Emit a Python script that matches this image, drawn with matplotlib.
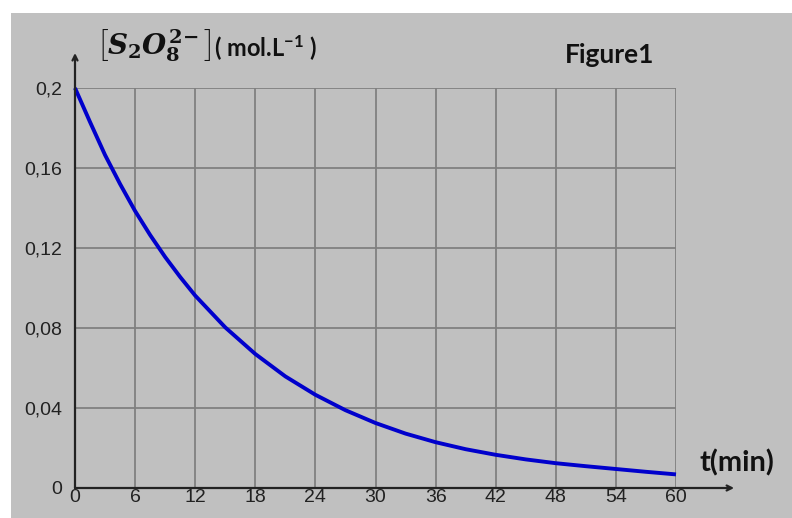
import matplotlib
matplotlib.use("Agg")
import matplotlib.pyplot as plt
from matplotlib.patches import Rectangle

# concentration of S2O8^2- (mol/L)
t_min = [0, 1.5, 3, 4.5, 6, 7.5, 9, 10.5, 12, 15, 18, 21, 24, 27, 30,
         33, 36, 39, 42, 45, 48, 51, 54, 57, 60]
conc = [0.2, 0.183, 0.1665, 0.152, 0.1385, 0.1265, 0.1155, 0.1055, 0.0962,
        0.0803, 0.0670, 0.0558, 0.0466, 0.0389, 0.0325, 0.0272, 0.0229,
        0.0194, 0.0166, 0.0143, 0.0124, 0.0109, 0.0095, 0.0081, 0.0068]

x_ticks = [0, 6, 12, 18, 24, 30, 36, 42, 48, 54, 60]
y_ticks = [0, 0.04, 0.08, 0.12, 0.16, 0.2]
y_tick_labels = ["0", "0,04", "0,08", "0,12", "0,16", "0,2"]

W, H = 792, 518
BG = "#c0c0c0"

plt.rcParams["mathtext.fontset"] = "custom"
plt.rcParams["mathtext.it"] = "DejaVu Serif:italic:bold"
plt.rcParams["mathtext.rm"] = "DejaVu Serif:bold"
plt.rcParams["mathtext.bf"] = "Lato:bold"

fig = plt.figure(figsize=(W / 100, H / 100), dpi=100)
fig.patch.set_facecolor("white")
fig.patches.append(Rectangle((11 / W, 0), 1 - 11 / W, (H - 13) / H,
                             transform=fig.transFigure, facecolor=BG,
                             edgecolor="none", zorder=-10))

ax = fig.add_axes([75 / W, (H - 488) / H, 601 / W, 400 / H])
ax.set_facecolor(BG)
ax.set_xlim(0, 60)
ax.set_ylim(0, 0.2)

ax.set_xticks(x_ticks)
ax.set_xticklabels([str(v) for v in x_ticks])
ax.set_yticks(y_ticks)
ax.set_yticklabels(y_tick_labels)
ax.tick_params(length=0, labelsize=14, colors="#222222")
ax.tick_params(axis="y", pad=9)
ax.tick_params(axis="x", pad=1)
for lab in ax.get_xticklabels() + ax.get_yticklabels():
    lab.set_fontfamily("Liberation Sans")

ax.grid(True, color="#808080", linewidth=1.3)
for s in ("top", "right", "left", "bottom"):
    ax.spines[s].set_visible(False)

ax.plot(t_min, conc, color="#0000cc", linewidth=2.8, solid_capstyle="butt",
        solid_joinstyle="round", zorder=3, clip_on=False)

# axes with arrows
ax.annotate("", xy=(65.8, 0), xytext=(0, 0), xycoords="data",
            arrowprops=dict(arrowstyle="->", color="#222222", lw=1.6,
                            mutation_scale=9, shrinkA=0, shrinkB=0),
            annotation_clip=False, zorder=4)
ax.annotate("", xy=(0, 0.2175), xytext=(0, 0), xycoords="data",
            arrowprops=dict(arrowstyle="->", color="#222222", lw=1.6,
                            mutation_scale=9, shrinkA=0, shrinkB=0),
            annotation_clip=False, zorder=4)

# labels
fig.text(96 / W, 1 - 46 / H, r"$\left[\mathit{S_2O_8^{2\!-}}\right]$",
         fontsize=20, color="#111111", ha="left", va="center")
fig.text(214 / W, 1 - 48 / H, r"( mol.L$^{\mathbf{-1}}$ )", fontsize=17,
         fontfamily="Lato", fontweight="bold", color="#111111",
         ha="left", va="center")
fig.text(565 / W, 1 - 55 / H, "Figure1", fontsize=19, fontfamily="Lato",
         fontweight="bold", color="#111111", ha="left", va="center")
fig.text(700 / W, 1 - 463 / H, "t(min)", fontsize=21, fontfamily="Lato",
         fontweight="bold", color="#111111", ha="left", va="center")

fig.savefig("out.png", dpi=100)
